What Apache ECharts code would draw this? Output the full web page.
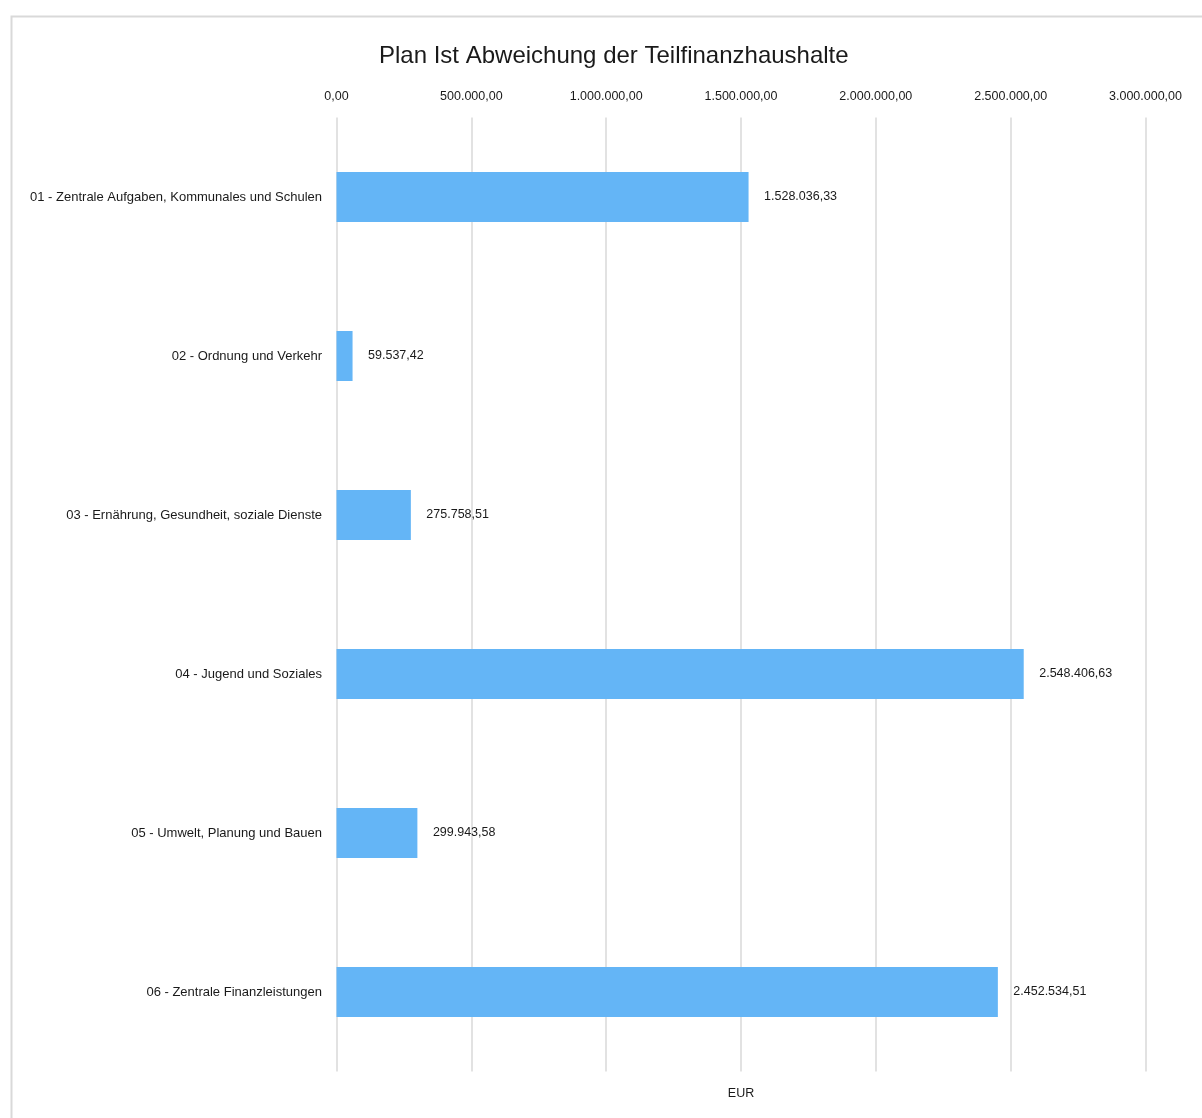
<!DOCTYPE html>
<html>
<head>
<meta charset="utf-8">
<script src="https://cdn.jsdelivr.net/npm/echarts@6/dist/echarts.min.js"></script>
<style>
  html, body { margin: 0; padding: 0; background: #ffffff; }
  #chart { width: 1202px; height: 1118px; }
</style>
</head>
<body>
<div id="chart"></div>
<script>
// Teilfinanzhaushalte (categories, top to bottom)
const categories = [
  '01 - Zentrale Aufgaben, Kommunales und Schulen',
  '02 - Ordnung und Verkehr',
  '03 - Ernährung, Gesundheit, soziale Dienste',
  '04 - Jugend und Soziales',
  '05 - Umwelt, Planung und Bauen',
  '06 - Zentrale Finanzleistungen'
];

// Plan/Ist deviation in EUR
const deviations = [1528036.33, 59537.42, 275758.51, 2548406.63, 299943.58, 2452534.51];

// Value axis range
const axisMin = 0;
const axisMax = 3000000;
const axisStep = 500000;

const FONT = '"Liberation Sans", Arial, sans-serif';
const TEXT = '#1a1a1a';

// German number format: 1.234.567,89
function fmtDE(v) {
  const fixed = Math.abs(v).toFixed(2);
  const parts = fixed.split('.');
  const intPart = parts[0].replace(/\B(?=(\d{3})+(?!\d))/g, '.');
  return (v < 0 ? '-' : '') + intPart + ',' + parts[1];
}

const chart = echarts.init(document.getElementById('chart'), null, { renderer: 'canvas' });

chart.setOption({
  backgroundColor: '#ffffff',
  animation: false,
  title: {
    text: 'Plan Ist Abweichung der Teilfinanzhaushalte',
    left: 374,
    top: 39,
    textStyle: { fontFamily: FONT, fontSize: 24, fontWeight: 'normal', color: TEXT }
  },
  graphic: [{
    type: 'rect',
    left: 9,
    top: 14,
    shape: { width: 1200, height: 1110 },
    style: { fill: 'none', stroke: '#d9d9d9', lineWidth: 2 },
    silent: true,
    z: -1
  }],
  grid: {
    left: 336.5, right: 56.5, top: 117.5, bottom: 46.5,
    containLabel: false,
    outerBoundsMode: 'none'
  },
  xAxis: [{
    type: 'value',
    position: 'top',
    min: axisMin,
    max: axisMax,
    interval: axisStep,
    axisLine: { show: false },
    axisTick: { show: false },
    splitLine: { show: true, lineStyle: { color: '#d9d9d9', width: 1.5 } },
    axisLabel: {
      margin: 14,
      fontFamily: FONT,
      fontSize: 12.5,
      color: TEXT,
      formatter: fmtDE
    }
  }, {
    type: 'value',
    position: 'bottom',
    min: axisMin,
    max: axisMax,
    interval: axisStep,
    name: 'EUR',
    nameLocation: 'middle',
    nameGap: 16,
    nameTextStyle: { fontFamily: FONT, fontSize: 12.5, color: TEXT },
    axisLine: { show: false },
    axisTick: { show: false },
    splitLine: { show: false },
    axisLabel: { show: false }
  }],
  yAxis: {
    type: 'category',
    data: categories,
    inverse: true,
    axisLine: { show: false },
    axisTick: { show: false },
    splitLine: { show: false },
    axisLabel: {
      margin: 14.5,
      fontFamily: FONT,
      fontSize: 13,
      color: TEXT
    }
  },
  series: [{
    type: 'bar',
    xAxisIndex: 0,
    data: deviations,
    barWidth: 50,
    itemStyle: { color: '#64b5f6' },
    label: {
      show: true,
      position: 'right',
      distance: 15.5,
      fontFamily: FONT,
      fontSize: 12.5,
      color: TEXT,
      formatter: p => fmtDE(p.value)
    }
  }]
});
</script>
</body>
</html>
